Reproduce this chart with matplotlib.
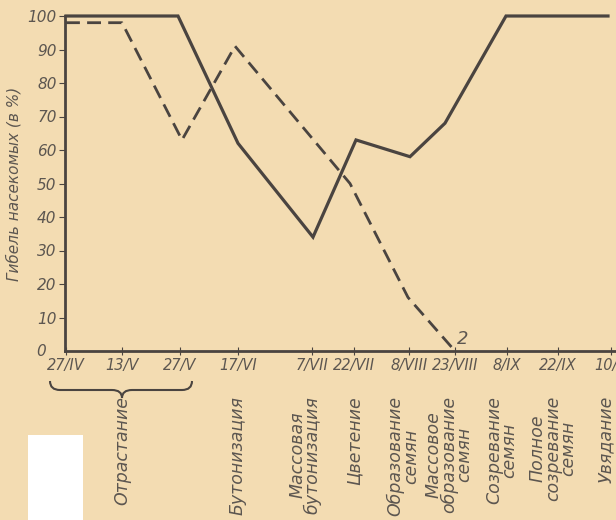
import numpy as np
import matplotlib.pyplot as plt
from matplotlib.path import Path
from matplotlib.patches import PathPatch, Rectangle
import matplotlib.transforms as mtransforms

# x scale of the original (uneven spacing between dates)
date_labels = ["27/IV", "13/V", "27/V", "17/VI", "7/VII", "22/VII",
               "8/VIII", "23/VIII", "8/IX", "22/IX", "10/X"]
date_pos = [66, 122, 180, 238, 312, 354, 409, 455, 507, 558, 611]

# curve 1 (solid)
x1 = [66, 122, 178, 238, 313, 356, 410, 445, 506, 608]
y1 = [100, 100, 100, 62, 34, 63, 58, 68, 100, 100]

# curve 2 (dashed)
x2 = [66, 122, 182, 235, 350, 408, 455]
y2 = [98, 98, 63, 91, 50, 16, 0]

stages = ["Отрастание", "Бутонизация", "Массовая\nбутонизация", "Цветение",
          "Образование\nсемян", "Массовое\nобразование\nсемян",
          "Созревание\nсемян", "Полное\nсозревание\nсемян", "Увядание"]
stage_pos = [122, 238, 305, 355, 403, 449, 502, 553, 606]

bg = "#f3dcb2"
ink = "#4a4440"
txt = "#5c5650"

plt.rcParams['font.family'] = ['DejaVu Sans']
fig = plt.figure(figsize=(6.16, 5.2), dpi=100)
fig.patch.set_facecolor(bg)
ax = fig.add_axes([65 / 616, 1 - 351 / 520, 1 - 65 / 616, (351 - 16) / 520])
ax.set_facecolor(bg)

ax.plot(x1, y1, color=ink, lw=2.3, solid_joinstyle='miter', clip_on=False)
ax.plot(x2, y2, color=ink, lw=2.0, dashes=(5, 2.6), clip_on=False)
ax.text(457, 1, "2", fontsize=13, style='italic', color=txt, ha='left', va='bottom')

ax.set_xlim(65, 616)
ax.set_ylim(0, 100)
for s in ['top', 'right']:
    ax.spines[s].set_visible(False)
for s in ['left', 'bottom']:
    ax.spines[s].set_color(ink)
    ax.spines[s].set_linewidth(2)

ax.set_yticks(np.arange(10, 101, 10))
ax.set_yticklabels([str(v) for v in range(10, 101, 10)], fontsize=11, style='italic', color=txt)
ax.tick_params(axis='y', direction='out', length=4, color=ink, pad=2)
ax.text(-0.035, 0, "0", transform=ax.transAxes, fontsize=11, style='italic',
        color=txt, ha='right', va='center')

ax.set_xticks(date_pos)
ax.set_xticklabels(date_labels, fontsize=10.5, style='italic', color=txt)
ax.tick_params(axis='x', direction='inout', length=6, color=ink, pad=2)

ax.set_ylabel("Гибель насекомых (в %)", fontsize=11, style='italic', color=txt, labelpad=4)

# brace under the first three dates
def fx(px):
    return px / 616
def fy(py):
    return 1 - py / 520
pts = [(50, 381), (50, 390), (60, 390), (112, 390), (122, 390), (122, 398),
       (122, 390), (132, 390), (182, 390), (192, 390), (192, 381)]
codes = [Path.MOVETO, Path.CURVE3, Path.CURVE3, Path.LINETO, Path.CURVE3, Path.CURVE3,
         Path.CURVE3, Path.CURVE3, Path.LINETO, Path.CURVE3, Path.CURVE3]
brace = Path([(fx(a), fy(b)) for a, b in pts], codes)
fig.patches.append(PathPatch(brace, transform=fig.transFigure, fill=False,
                             edgecolor=ink, lw=1.5))

# stage names
trans = mtransforms.blended_transform_factory(ax.transData, fig.transFigure)
for s, p in zip(stages, stage_pos):
    ax.text(p, fy(396), s, transform=trans, rotation=90, ha='center', va='top',
            multialignment='center', fontsize=12.5, style='italic', color=txt,
            linespacing=0.8, clip_on=False)

# white patch from the scan
fig.patches.append(Rectangle((fx(28), 0), fx(55), fy(435), transform=fig.transFigure,
                             facecolor='white', edgecolor='none'))

fig.savefig("out.png", dpi=100, facecolor=bg)
